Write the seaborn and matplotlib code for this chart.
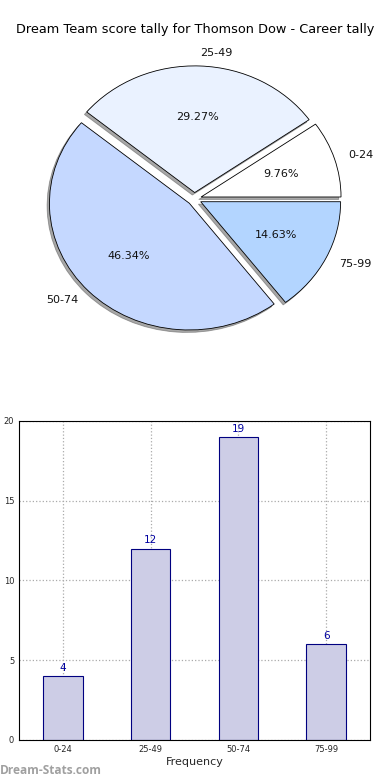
import matplotlib
matplotlib.use("Agg")
import matplotlib.pyplot as plt
import seaborn as sns
import pandas as pd

# score ranges and how many times each happened
categories = ["0-24", "25-49", "50-74", "75-99"]
counts = [4, 12, 19, 6]
pie_colors = ["#ffffff", "#eaf2ff", "#c5d8ff", "#b3d5ff"]

sns.set_theme(style="white")
plt.rcParams['font.family'] = ['DejaVu Sans']

fig = plt.figure(figsize=(3.9, 7.8), dpi=100)

# pie chart on top
ax1 = fig.add_axes([0.05, 0.542, 0.897, 0.406])
wedges, texts, autotexts = ax1.pie(
    counts, labels=categories, colors=pie_colors, explode=[0.05] * 4,
    autopct="%1.2f%%", shadow={"ox": -0.012, "oy": -0.014, "color": "#505050"},
    startangle=0,
    wedgeprops={"edgecolor": "black", "linewidth": 0.6},
    textprops={"fontsize": 8, "color": "#111111"})
ax1.set_aspect("auto")
ax1.set_xlim(-1.25, 1.25)
ax1.set_ylim(-1.25, 1.25)
fig.text(0.5, 0.962, "Dream Team score tally for Thomson Dow - Career tally",
         ha="center", va="center", fontsize=9.3, color="black")

# bar chart below
ax2 = fig.add_axes([0.0487, 0.0513, 0.9, 0.409])
df = pd.DataFrame({"range": categories, "count": counts})
sns.barplot(data=df, x="range", y="count", ax=ax2, color="#cdcde6",
            edgecolor="#000080", linewidth=0.8, width=0.45, saturation=1)
for i, v in enumerate(counts):
    ax2.text(i, v + 0.2, str(v), ha="center", va="bottom", fontsize=7.5, color="#0000a0")
ax2.set_xlim(-0.5, 3.5)
ax2.set_ylim(0, 20)
ax2.set_yticks([0, 5, 10, 15, 20])
ax2.grid(True, linestyle=":", color="#aaaaaa", linewidth=0.9)
ax2.set_axisbelow(True)
for s in ax2.spines.values():
    s.set_color("black")
    s.set_linewidth(0.8)
ax2.tick_params(axis="both", labelsize=6, direction="in", length=3, color="black")
ax2.set_xlabel("Frequency", fontsize=8, labelpad=2)
ax2.set_ylabel("Score Tally", fontsize=8)

fig.text(0.0, 0.012, "Dream-Stats.com", fontsize=8.6, color="#a0a0a0",
         fontweight="bold", ha="left", va="center", family=["Open Sans", "DejaVu Sans"])

fig.savefig("out.png", dpi=100)
